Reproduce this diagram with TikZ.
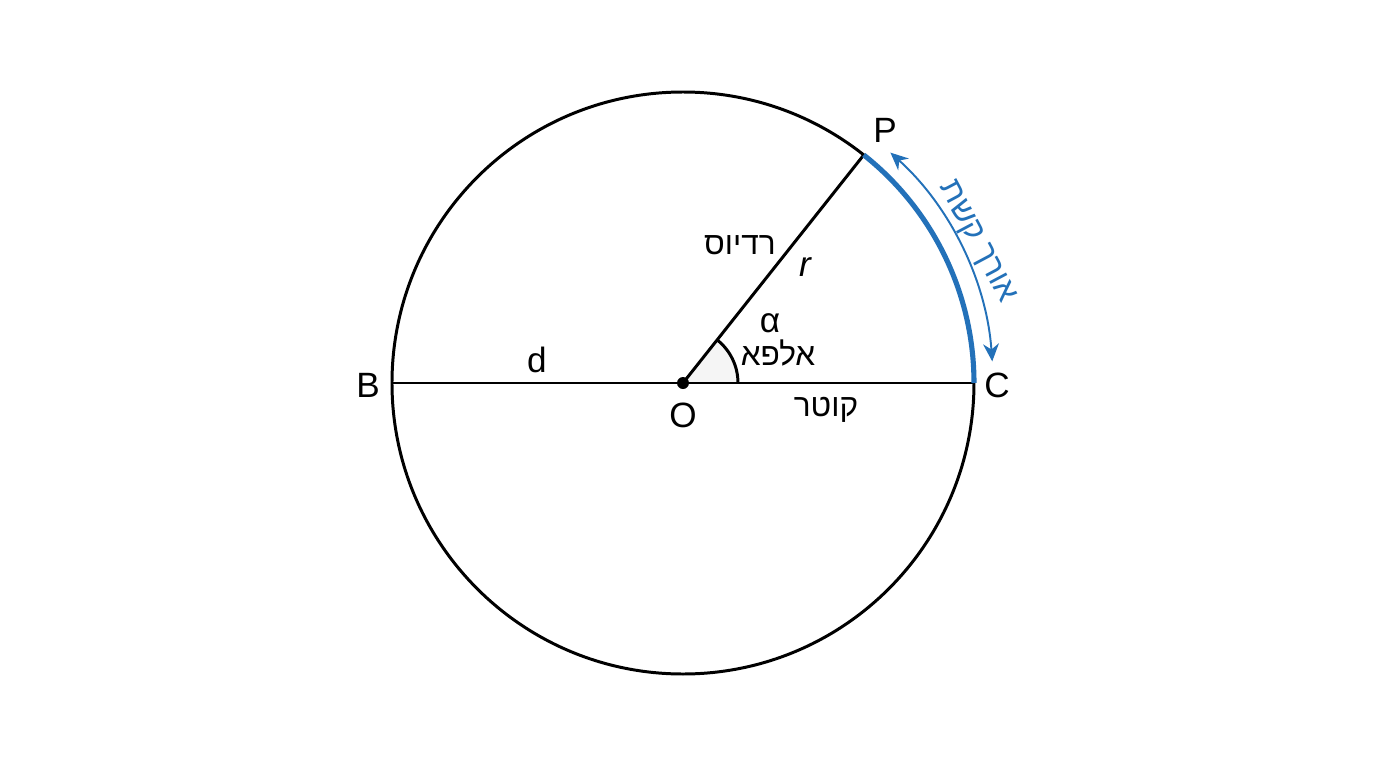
\documentclass[tikz,border=0pt]{standalone}
\usepackage{fontspec}
\setmainfont{Liberation Sans}
\newfontfamily\hebfont[Script=Hebrew]{Liberation Sans}
\TeXXeTstate=1
\usetikzlibrary{arrows.meta}
\definecolor{arcblue}{RGB}{35,113,185}
\tikzset{
	lbl/.style={font=\fontsize{20}{24}\selectfont, inner sep=0pt},
	heb/.style={font=\hebfont\fontsize{18}{22}\selectfont, inner sep=0pt},
	tip/.style={Stealth[length=10pt,width=9pt]},
}
\begin{document}
\begin{tikzpicture}[x=0.02cm,y=0.02cm,line width=1.7pt]
		\useasboundingbox[fill=white] (-683,-385) rectangle (693,383);
		\coordinate (O) at (0,0);
		\coordinate (B) at (180:291);
		\coordinate (C) at (0:291);
		\coordinate (P) at (51.6:291);
		\fill[gray!8] (O) -- (0:55) arc (0:51.6:55) -- cycle;
		\draw (0:55) arc (0:51.6:55);
		\draw (O) circle (291);
		\draw (B) -- (C);
		\draw (O) -- (P);
		\draw[arcblue, line width=2.9pt] (C) arc (0:51.6:291);
		\draw[arcblue, line width=1.1pt, {Stealth[length=10pt,width=9pt]}-{Stealth[length=10pt,width=9pt]}] (4:310) arc (4:48:310);
		\fill (O) circle (6);
		\node[lbl] (Blbl) at (-315,-2) {B};
		\node[lbl] (Clbl) at (314,-2) {C};
		\node[lbl] (Plbl) at (202,253) {P};
		\node[lbl] (Olbl) at (0,-32) {O};
		\node[lbl] (dlbl) at (-146,23) {d};
		\node[lbl, font=\fontsize{20}{24}\selectfont\itshape] (rlbl) at (122,116) {r};
		\node[lbl] (alpha) at (87,60) {α};
		\node[heb] (radius) at (57,138) {\beginR רדיוס\endR};
		\node[heb] (alef) at (95,30) {\beginR אלפא\endR};
		\node[heb] (diam) at (143,-27) {\beginR קוטר\endR};
		\node[heb, text=arcblue, rotate=-62] (arclen) at (25.6:325) {\beginR אורך קשת\endR};
	\end{tikzpicture}
\end{document}
